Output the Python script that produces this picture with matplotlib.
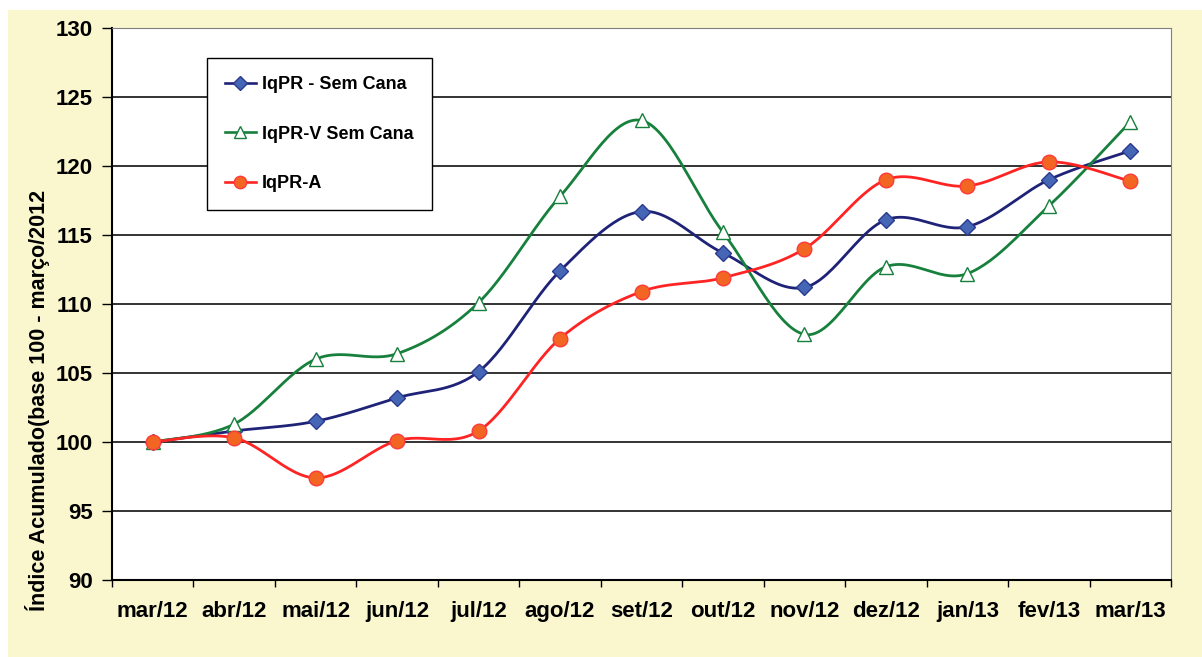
import numpy as np
import matplotlib.pyplot as plt
from matplotlib.patches import Rectangle
from matplotlib.lines import Line2D

plt.rcParams['font.family'] = ['Liberation Sans', 'DejaVu Sans']

meses = ['mar/12', 'abr/12', 'mai/12', 'jun/12', 'jul/12', 'ago/12', 'set/12',
         'out/12', 'nov/12', 'dez/12', 'jan/13', 'fev/13', 'mar/13']

iqpr_sem_cana = [100.0, 100.8, 101.5, 103.2, 105.1, 112.4, 116.7,
                 113.7, 111.2, 116.1, 115.6, 119.0, 121.1]
iqpr_v_sem_cana = [100.0, 101.3, 106.0, 106.4, 110.1, 117.8, 123.3,
                   115.2, 107.8, 112.7, 112.2, 117.1, 123.2]
iqpr_a = [100.0, 100.3, 97.4, 100.1, 100.8, 107.5, 110.9,
          111.9, 114.0, 119.0, 118.55, 120.3, 118.9]


def suaviza(x, y, n=30):
    # curva estilo Excel (bezier com controle de 1/6)
    x = np.asarray(x, float)
    y = np.asarray(y, float)
    px = np.concatenate([[x[0]], x, [x[-1]]])
    py = np.concatenate([[y[0]], y, [y[-1]]])
    t = np.linspace(0, 1, n)
    xs, ys = [], []
    for i in range(1, len(px) - 2):
        x0, y0 = px[i], py[i]
        x3, y3 = px[i + 1], py[i + 1]
        x1 = x0 + (px[i + 1] - px[i - 1]) / 6
        y1 = y0 + (py[i + 1] - py[i - 1]) / 6
        x2 = x3 - (px[i + 2] - px[i]) / 6
        y2 = y3 - (py[i + 2] - py[i]) / 6
        b0 = (1 - t) ** 3
        b1 = 3 * (1 - t) ** 2 * t
        b2 = 3 * (1 - t) * t ** 2
        b3 = t ** 3
        xs.append(b0 * x0 + b1 * x1 + b2 * x2 + b3 * x3)
        ys.append(b0 * y0 + b1 * y1 + b2 * y2 + b3 * y3)
    return np.concatenate(xs), np.concatenate(ys)


fig = plt.figure(figsize=(12.02, 6.57), dpi=100, facecolor='white')
fundo = Rectangle((8 / 1202, 0), 1, (657 - 10) / 657,
                  transform=fig.transFigure, facecolor='#FAF7CE',
                  edgecolor='none', zorder=-10)
fig.add_artist(fundo)

ax = fig.add_axes([112 / 1202, (657 - 580) / 657, (1171 - 112) / 1202, (580 - 28) / 657])
ax.set_facecolor('white')
ax.set_zorder(1)

x = np.arange(len(meses))

series = [
    (iqpr_sem_cana, 'IqPR - Sem Cana', '#1F2378', 'D', '#4466B4', '#2B3990', 8.5),
    (iqpr_v_sem_cana, 'IqPR-V Sem Cana', '#17803C', '^', 'white', '#17803C', 10.5),
    (iqpr_a, 'IqPR-A', '#FF2424', 'o', '#F26522', '#FF3A3A', 10.5),
]

handles = []
for vals, nome, cor, mk, face, borda, ms in series:
    sx, sy = suaviza(x, vals)
    ax.plot(sx, sy, color=cor, lw=2.0, zorder=3)
    ax.plot(x, vals, linestyle='none', marker=mk, markersize=ms,
            markerfacecolor=face, markeredgecolor=borda, markeredgewidth=1.0, zorder=4)
    handles.append(Line2D([], [], color=cor, lw=1.9, marker=mk, markersize=ms * 0.85,
                          markerfacecolor=face, markeredgecolor=borda))

ax.set_xlim(-0.5, 12.5)
ax.set_ylim(90, 130)
ax.set_yticks(range(90, 131, 5))
ax.yaxis.grid(True, color='#111111', lw=1.2)
ax.set_axisbelow(True)

ax.set_xticks(x)
ax.set_xticklabels(meses, fontsize=16, fontweight='bold')
ax.set_xticks(np.arange(-0.5, 13, 1), minor=True)
ax.tick_params(axis='x', which='major', length=0, pad=15)
ax.tick_params(axis='x', which='minor', length=5, width=1, direction='out')
ax.tick_params(axis='y', length=7, width=1, direction='out', pad=7, labelsize=16)
for lb in ax.get_yticklabels():
    lb.set_fontweight('bold')

ax.spines['left'].set_color('black')
ax.spines['left'].set_linewidth(1.5)
ax.spines['bottom'].set_color('black')
ax.spines['bottom'].set_linewidth(1.5)
ax.spines['top'].set_color('#808080')
ax.spines['right'].set_color('#808080')

ax.set_ylabel('Índice Acumulado(base 100 - março/2012', fontsize=15.5,
              fontweight='bold')
ax.yaxis.set_label_coords(-0.059, 0.326)

leg = ax.legend(handles, [s[1] for s in series], loc='upper left',
                bbox_to_anchor=(95 / 1059, 1 - 30 / 552), frameon=True,
                fancybox=False, edgecolor='black', framealpha=1,
                prop={'weight': 'bold', 'size': 13}, labelspacing=1.8,
                handlelength=1.7, handletextpad=0.35, borderpad=1.0,
                borderaxespad=0)
leg.get_frame().set_linewidth(1.0)

fig.savefig('out.png', dpi=100, facecolor='white')
